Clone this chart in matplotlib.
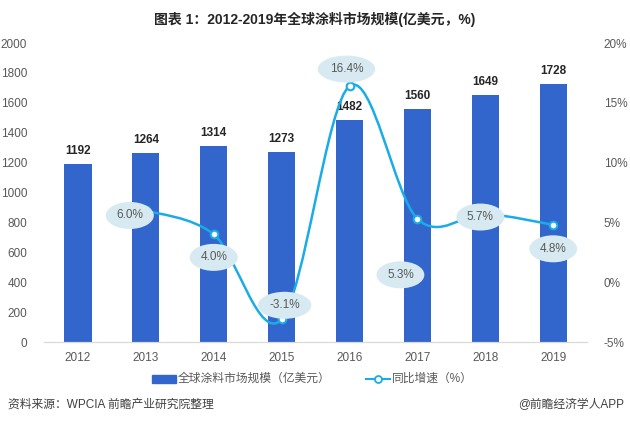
import numpy as np
import matplotlib
matplotlib.use('Agg')
import matplotlib.pyplot as plt
from matplotlib.path import Path
from matplotlib.patches import PathPatch

plt.rcParams['font.family'] = ['Liberation Sans', 'Noto Sans CJK SC', 'DejaVu Sans']

years = ['2012', '2013', '2014', '2015', '2016', '2017', '2018', '2019']
market = [1192, 1264, 1314, 1273, 1482, 1560, 1649, 1728]
growth = [6.0, 4.0, -3.1, 16.4, 5.3, 5.7, 4.8]
# where each bubble label sits relative to its point (screen pixels, y down)
bubble_off = [(-16, 5), (0, 23), (3, -14), (-3, -17), (-17, 56), (-5, 3), (0, 24)]

bar_color = '#3366CC'
line_color = '#1AACE6'
grey = '#595959'

fig = plt.figure(figsize=(6.3, 4.21), dpi=100)
ax = fig.add_axes([0.0698, 0.1876, 0.8622, 0.7102])
ax2 = ax.twinx()

x = np.arange(len(years))
ax.bar(x, market, width=0.4, color=bar_color, zorder=2)
for xi, v in zip(x, market):
    ax.annotate(str(v), (xi, v), xytext=(0, 7), textcoords='offset pixels',
                ha='center', va='bottom', fontsize=8.5, fontweight='bold', color='#262626')

ax.set_xlim(-0.5, len(years) - 0.5)
ax.set_ylim(0, 2000)
ax.set_yticks(range(0, 2001, 200))
ax.set_xticks(x)
ax.set_xticklabels(years)

ax2.set_ylim(-5, 20)
ax2.set_yticks(range(-5, 21, 5))
ax2.set_yticklabels([f'{t}%' for t in range(-5, 21, 5)])

for a in (ax, ax2):
    for s in ['top', 'left', 'right']:
        a.spines[s].set_visible(False)
    a.spines['bottom'].set_color('#D9D9D9')
    a.tick_params(length=0, labelsize=8.5, colors=grey)
ax.tick_params(axis='y', pad=12)
ax2.tick_params(axis='y', pad=12)
ax.tick_params(axis='x', pad=7)

# smooth line through the growth points (Catmull-Rom as cubic Bezier)
gx = x[1:].astype(float)
gy = np.array(growth)
pts = np.column_stack([gx, gy])
verts = [pts[0]]
codes = [Path.MOVETO]
n = len(pts)
for i in range(n - 1):
    p0 = pts[i - 1] if i > 0 else pts[i]
    p1 = pts[i]
    p2 = pts[i + 1]
    p3 = pts[i + 2] if i + 2 < n else pts[i + 1]
    c1 = p1 + (p2 - p0) / 6
    c2 = p2 - (p3 - p1) / 6
    verts += [c1, c2, p2]
    codes += [Path.CURVE4] * 3
ax2.add_patch(PathPatch(Path(verts, codes), fill=False, edgecolor=line_color, lw=1.8, zorder=3))
ax2.plot(gx, gy, linestyle='none', marker='o', markersize=5.5, markerfacecolor='white',
         markeredgecolor=line_color, markeredgewidth=1.5, zorder=4)

for xi, v, (dx, dy) in zip(gx, gy, bubble_off):
    ax2.annotate(f'{v:.1f}%', (xi, v), xytext=(dx, -dy), textcoords='offset pixels',
                 ha='center', va='center', fontsize=8.5, color=grey, zorder=5,
                 bbox=dict(boxstyle='ellipse,pad=0.3', fc='#D8EAF1', ec='none'))

fig.text(0.5, 0.955, '图表 1：2012-2019年全球涂料市场规模(亿美元，%)', ha='center', va='center',
         fontsize=10, fontweight='bold', color='#262626')

# legend
fig.patches.append(plt.Rectangle((152 / 630, 1 - 383 / 421), 24 / 630, 8 / 421,
                                 transform=fig.transFigure, color=bar_color))
fig.text(178 / 630, 1 - 379 / 421, '全球涂料市场规模（亿美元）', ha='left', va='center',
         fontsize=8.5, color=grey)
fig.lines.append(plt.Line2D([366 / 630, 390 / 630], [1 - 379 / 421] * 2, transform=fig.transFigure,
                            color=line_color, lw=1.5))
fig.lines.append(plt.Line2D([378 / 630], [1 - 379 / 421], transform=fig.transFigure, color=line_color,
                            marker='o', markersize=5, markerfacecolor='white', markeredgewidth=1.3))
fig.text(392 / 630, 1 - 379 / 421, '同比增速（%）', ha='left', va='center', fontsize=8.5, color=grey)

fig.text(8 / 630, 1 - 405 / 421, '资料来源：WPCIA 前瞻产业研究院整理', ha='left', va='center',
         fontsize=8.5, color='#404040')
fig.text(624 / 630, 1 - 405 / 421, '@前瞻经济学人APP', ha='right', va='center',
         fontsize=8.5, color='#404040')

fig.savefig('out.png', dpi=100)
